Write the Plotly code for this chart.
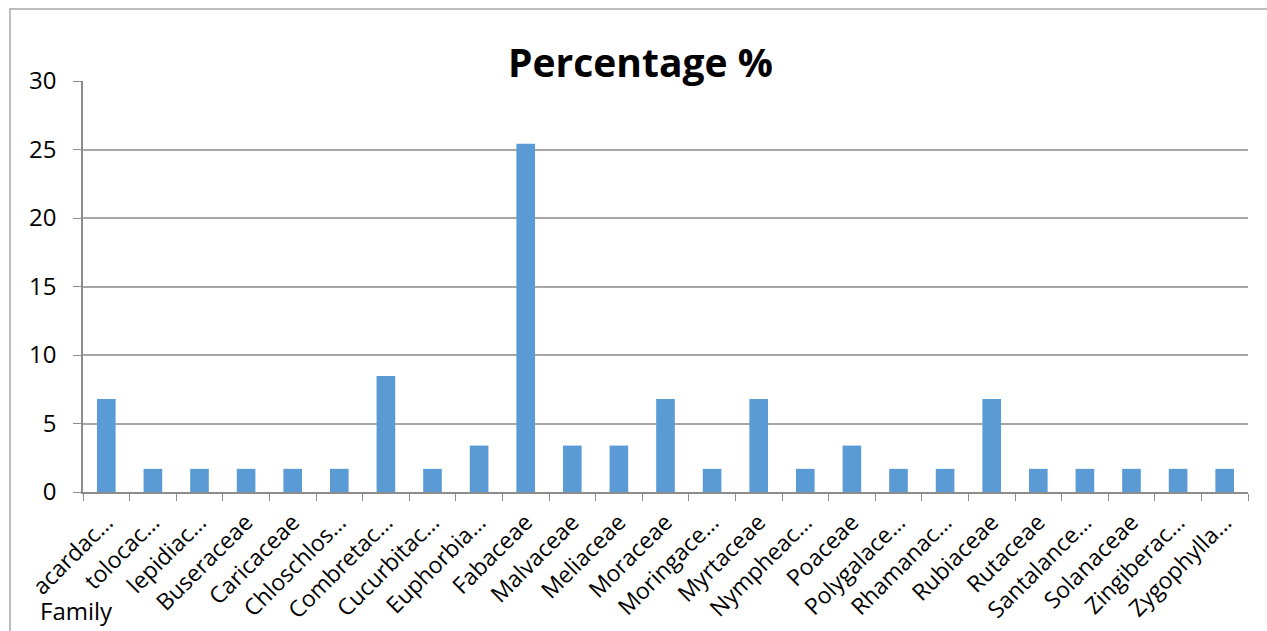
import plotly.graph_objects as go

# Plant families (axis labels as printed, long names truncated) and their share in %
families = [
    "acardac…", "tolocac…", "lepidiac…", "Buseraceae", "Caricaceae",
    "Chloschlos…", "Combretac…", "Cucurbitac…", "Euphorbia…", "Fabaceae",
    "Malvaceae", "Meliaceae", "Moraceae", "Moringace…", "Myrtaceae",
    "Nympheac…", "Poaceae", "Polygalace…", "Rhamanac…", "Rubiaceae",
    "Rutaceae", "Santalance…", "Solanaceae", "Zingiberac…", "Zygophylla…",
]
percentage = [
    6.78, 1.69, 1.69, 1.69, 1.69,
    1.69, 8.47, 1.69, 3.39, 25.42,
    3.39, 3.39, 6.78, 1.69, 6.78,
    1.69, 3.39, 1.69, 1.69, 6.78,
    1.69, 1.69, 1.69, 1.69, 1.69,
]
y_ticks = [0, 5, 10, 15, 20, 25, 30]

FONT = "Open Sans"
W, H = 1267, 631
L, R, T, B = 83, 19, 81, 139  # plot area: x 83..1248, y 81..492

fig = go.Figure(
    go.Bar(
        x=families,
        y=percentage,
        marker=dict(color="#5B9BD5", line=dict(width=0)),
        hoverinfo="x+y",
    )
)

pw, ph = W - L - R, H - T - B


def px_x(px):
    return (px - L) / pw


def px_y(py):
    return (H - B - py) / ph


fig.update_layout(
    width=W,
    height=H,
    autosize=False,
    margin=dict(l=L, r=R, t=T, b=B, pad=0, autoexpand=False),
    paper_bgcolor="white",
    plot_bgcolor="white",
    bargap=0.6,
    showlegend=False,
    font=dict(family=FONT, size=20, color="#000000"),
    xaxis=dict(
        type="category",
        automargin=False,
        tickangle=-45,
        tickson="boundaries",
        ticks="outside",
        ticklen=7,
        tickcolor="#8c8c8c",
        ticklabelstandoff=6,
        showline=True,
        linecolor="#8c8c8c",
        linewidth=1.5,
        showgrid=False,
        tickfont=dict(family=FONT, size=23, color="#000000"),
    ),
    yaxis=dict(
        range=[0, 30],
        automargin=False,
        tickvals=y_ticks,
        ticktext=[str(v) for v in y_ticks],
        ticks="outside",
        ticklen=8,
        tickcolor="#8c8c8c",
        ticklabelstandoff=12,
        showline=True,
        linecolor="#8c8c8c",
        linewidth=1.5,
        showgrid=True,
        gridcolor="#a6a6a6",
        gridwidth=1.5,
        zeroline=False,
        tickfont=dict(family=FONT, size=24, color="#000000"),
    ),
    shapes=[
        dict(
            type="rect",
            xref="paper",
            yref="paper",
            x0=px_x(10),
            x1=px_x(1300),
            y0=px_y(660),
            y1=px_y(9),
            line=dict(color="#a6a6a6", width=1.5),
            fillcolor="rgba(0,0,0,0)",
            layer="below",
        )
    ],
    annotations=[
        dict(
            text="<b>Percentage %</b>",
            xref="paper",
            yref="paper",
            x=px_x(640.5),
            y=px_y(61),
            xanchor="center",
            yanchor="middle",
            showarrow=False,
            font=dict(family=FONT, size=39, color="#000000"),
        ),
        dict(
            text="Family",
            xref="paper",
            yref="paper",
            x=px_x(38),
            y=px_y(610),
            xanchor="left",
            yanchor="middle",
            showarrow=False,
            font=dict(family=FONT, size=24, color="#000000"),
        ),
    ],
)

fig.write_html("out.html")
